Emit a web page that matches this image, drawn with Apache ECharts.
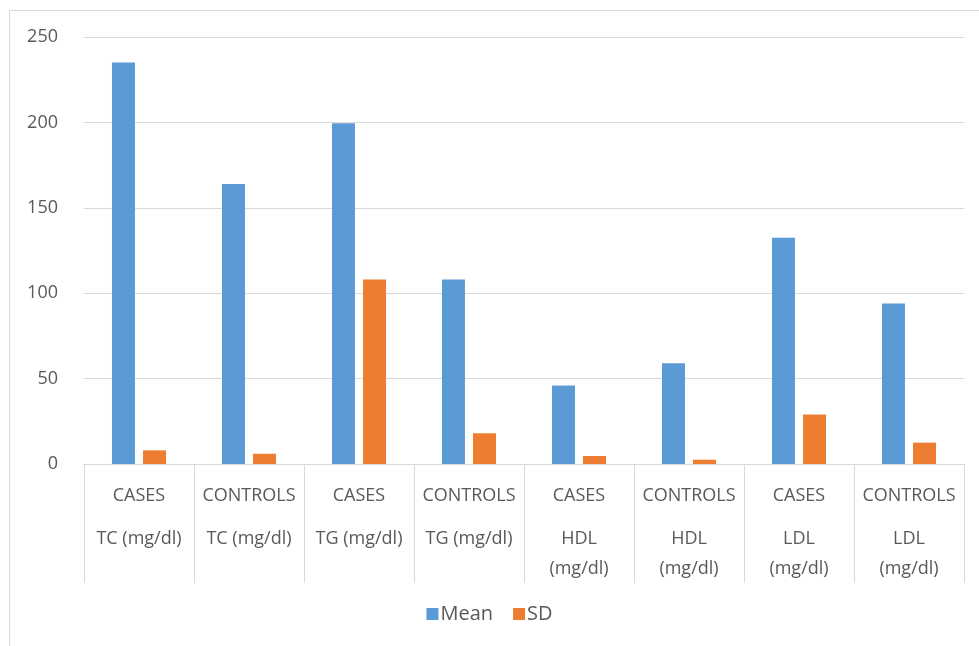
<!DOCTYPE html>
<html>
<head>
<meta charset="utf-8">
<script src="https://cdn.jsdelivr.net/npm/echarts@6/dist/echarts.min.js"></script>
<style>
html, body { margin: 0; padding: 0; background: #fff; }
#main { width: 979px; height: 646px; }
</style>
</head>
<body>
<div id="main"></div>
<script>
// 分组和指标
var groups = ['CASES', 'CONTROLS', 'CASES', 'CONTROLS', 'CASES', 'CONTROLS', 'CASES', 'CONTROLS'];
var measures = ['TC (mg/dl)', 'TC (mg/dl)', 'TG (mg/dl)', 'TG (mg/dl)', 'HDL\n(mg/dl)', 'HDL\n(mg/dl)', 'LDL\n(mg/dl)', 'LDL\n(mg/dl)'];

// 数值
var meanData = [235, 164, 199.5, 108, 46, 59, 132.5, 94];
var sdData = [8, 6, 108, 18, 4.7, 2.5, 29, 12.5];

var yTicks = [0, 50, 100, 150, 200, 250];

var categories = [];
for (var i = 0; i < groups.length; i++) {
	categories.push(i);
}

var myChart = echarts.init(document.getElementById('main'));

var fontName = '"Open Sans", "Liberation Sans", sans-serif';

var option = {
	animation: false,
	textStyle: {
		fontFamily: fontName
	},
	graphic: [{
		type: 'rect',
		shape: { x: 9.5, y: 10.5, width: 1000, height: 700 },
		style: { fill: 'none', stroke: '#d9d9d9', lineWidth: 1 },
		silent: true
	}],
	grid: {
		left: 84,
		right: 15,
		top: 37,
		bottom: 182
	},
	legend: {
		bottom: 17,
		left: 'center',
		itemWidth: 12,
		itemHeight: 12,
		itemGap: 20,
		icon: 'rect',
		textStyle: {
			color: '#595959',
			fontSize: 20,
			padding: [0, 0, 0, -3]
		},
		data: ['Mean', 'SD']
	},
	xAxis: {
		type: 'category',
		data: categories,
		axisLine: {
			lineStyle: { color: '#d9d9d9', width: 1 }
		},
		axisTick: {
			show: true,
			interval: 0,
			length: 119,
			lineStyle: { color: '#d9d9d9', width: 1 }
		},
		axisLabel: {
			interval: 0,
			margin: 4,
			formatter: function (v) {
				return '{a|' + groups[v] + '}\n' + measures[v].split('\n').map(function (s) {
					return '{b|' + s + '}';
				}).join('\n');
			},
			rich: {
				a: { fontSize: 18, color: '#595959', lineHeight: 56, fontFamily: fontName },
				b: { fontSize: 18, color: '#595959', lineHeight: 30, fontFamily: fontName }
			}
		}
	},
	yAxis: {
		type: 'value',
		min: yTicks[0],
		max: yTicks[yTicks.length - 1],
		interval: yTicks[1] - yTicks[0],
		axisLine: { show: false },
		axisTick: { show: false },
		axisLabel: {
			color: '#595959',
			fontSize: 18,
			margin: 26
		},
		splitLine: {
			lineStyle: { color: '#d9d9d9', width: 1 }
		}
	},
	series: [{
		name: 'Mean',
		type: 'bar',
		barWidth: 23,
		barGap: '35%',
		itemStyle: { color: '#5b9bd5' },
		data: meanData
	}, {
		name: 'SD',
		type: 'bar',
		barWidth: 23,
		barGap: '35%',
		itemStyle: { color: '#ed7d31' },
		data: sdData
	}]
};

myChart.setOption(option);
</script>
</body>
</html>
